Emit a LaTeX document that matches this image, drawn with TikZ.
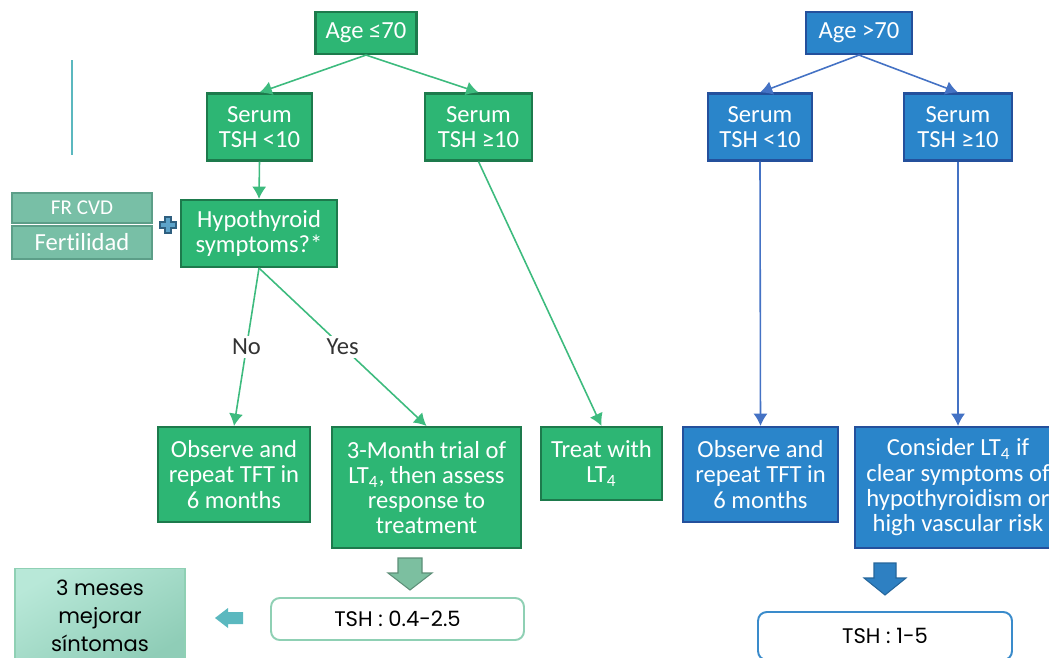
\documentclass[tikz,border=0pt]{standalone}
\usepackage{fontspec}
\setmainfont{Carlito}[Ligatures={NoCommon,NoRare}]
\newfontfamily\geofont{Poppins}
\usepackage{xcolor}
\usepackage{tikz}
\usetikzlibrary{arrows.meta}

\definecolor{boxgreen}{HTML}{2DB674}
\definecolor{edgegreen}{HTML}{1D7A4C}
\definecolor{linegreen}{HTML}{3DBB7E}
\definecolor{boxblue}{HTML}{2A85CA}
\definecolor{edgeblue}{HTML}{24509C}
\definecolor{lineblue}{HTML}{4472C4}
\definecolor{riskfill}{HTML}{78BFA6}
\definecolor{riskedge}{HTML}{5C9E88}
\definecolor{tealmark}{HTML}{5BB8BF}
\definecolor{plusblue}{HTML}{5DA3C9}
\definecolor{plusedge}{HTML}{2F5F7F}
\definecolor{bigarrowgreen}{HTML}{7CBFA0}
\definecolor{bigarrowblue}{HTML}{2E80C2}
\definecolor{tshgreen}{HTML}{8FD0B4}
\definecolor{tshblue}{HTML}{3A8BCB}
\definecolor{mesesA}{HTML}{B8E8D8}
\definecolor{mesesB}{HTML}{8FCDB7}

\begin{document}
\begin{tikzpicture}[x=0.02cm,y=-0.02cm,
	greenbox/.style={draw=edgegreen,fill=boxgreen,line width=1.2pt,text=white,align=center,inner sep=0pt,font=\fontsize{14}{14.4}\selectfont},
	bluebox/.style={draw=edgeblue,fill=boxblue,line width=1.2pt,text=white,align=center,inner sep=0pt,font=\fontsize{14}{14.4}\selectfont},
	riskbox/.style={draw=riskedge,fill=riskfill,line width=0.8pt,text=white,inner sep=0pt,minimum width=2.8cm},
	garrow/.style={draw=linegreen,line width=0.9pt,-{Latex[length=7pt,width=8pt]}},
	barrow/.style={draw=lineblue,line width=0.9pt,-{Latex[length=7pt,width=8pt]}},
	choice/.style={fill=white,text=black!80,inner sep=1.5pt,font=\fontsize{14}{14.4}\selectfont},
	tshbox/.style={draw,fill=white,rounded corners=5pt,line width=1.1pt,inner sep=0pt,font=\geofont\fontsize{12}{14}\selectfont}]
	\useasboundingbox (0,0) rectangle (1049,657);
	\draw[tealmark,line width=1pt] (72,60) -- (72,155);
	% age <= 70
	\node[greenbox,minimum width=2.02cm,minimum height=0.84cm] (agelow) at (366,33) {Age ≤70};
	\node[greenbox,minimum width=2.1cm,minimum height=1.34cm] (serlowA) at (259.5,127) {Serum\\TSH <10};
	\node[greenbox,minimum width=2.14cm,minimum height=1.34cm] (serlowB) at (478.5,127) {Serum\\TSH ≥10};
	\node[greenbox,minimum width=3.12cm,minimum height=1.34cm] (hypo) at (259,233.5) {Hypothyroid\\symptoms?*};
	\node[greenbox,minimum width=3.04cm,minimum height=1.9cm] (obslow) at (234,474.5) {Observe and\\repeat TFT in\\6 months};
	\node[greenbox,minimum width=3.78cm,minimum height=2.42cm] (trial) at (426.5,487.5) {3-Month trial of\\LT\textsubscript{4}, then assess\\response to\\treatment};
	\node[greenbox,minimum width=2.42cm,minimum height=1.46cm] (treat) at (601.5,463.5) {Treat with\\LT\textsubscript{4}};
	\draw[garrow] (agelow.south) -- (serlowA.north);
	\draw[garrow] (agelow.south) -- (serlowB.north);
	\draw[garrow] (serlowA.south) -- (hypo.north);
	\draw[garrow] (hypo.south) -- node[choice]{No} (obslow.north);
	\draw[garrow] (hypo.south) -- node[choice]{Yes} (trial.north);
	\draw[garrow] (serlowB.south) -- (treat.north);
	% risk factors
	\node[riskbox,minimum height=0.6cm,font=\fontsize{12}{12}\selectfont] (frcvd) at (82,208) {FR CVD};
	\node[riskbox,minimum height=0.66cm,font=\fontsize{14}{14}\selectfont] (fert) at (82,242.5) {Fertilidad};
	\draw[fill=plusblue,draw=plusedge,line width=0.6pt] (165,217) -- (171,217) -- (171,222) -- (176,222) -- (176,228) -- (171,228) -- (171,233) -- (165,233) -- (165,228) -- (160,228) -- (160,222) -- (165,222) -- cycle;
	% age > 70
	\node[bluebox,minimum width=2.12cm,minimum height=0.84cm] (agehigh) at (859,33) {Age >70};
	\node[bluebox,minimum width=2.08cm,minimum height=1.34cm] (serhighA) at (760,127) {Serum\\TSH <10};
	\node[bluebox,minimum width=2.16cm,minimum height=1.34cm] (serhighB) at (958,127) {Serum\\TSH ≥10};
	\node[bluebox,minimum width=3.1cm,minimum height=1.9cm] (obshigh) at (760.5,474.5) {Observe and\\repeat TFT in\\6 months};
	\node[bluebox,minimum width=4.12cm,minimum height=2.42cm] (consider) at (958,487.5) {Consider LT\textsubscript{4} if\\clear symptoms of\\hypothyroidism or\\high vascular risk};
	\draw[barrow] (agehigh.south) -- (serhighA.north);
	\draw[barrow] (agehigh.south) -- (serhighB.north);
	\draw[barrow] (serhighA.south) -- (obshigh.north);
	\draw[barrow] (serhighB.south) -- (consider.north);
	% targets
	\fill[bigarrowgreen,draw=bigarrowgreen!75!black,line width=0.6pt] (398,558) -- (422,558) -- (422,573) -- (432,573) -- (410,590) -- (388,573) -- (398,573) -- cycle;
	\fill[bigarrowblue,draw=bigarrowblue!80!black,line width=0.6pt] (874,563) -- (896,563) -- (896,578) -- (906,578) -- (885,595) -- (864,578) -- (874,578) -- cycle;
	\fill[tealmark] (243,612) -- (228,612) -- (228,608) -- (215,618) -- (228,628) -- (228,624) -- (243,624) -- cycle;
	\node[tshbox,draw=tshgreen,minimum width=5.06cm,minimum height=0.84cm] (tshlow) at (397.5,619) {TSH : 0.4-2.5};
	\node[tshbox,draw=tshblue,minimum width=5.08cm,minimum height=0.96cm] (tshhigh) at (885,636) {TSH : 1-5};
	\node[draw=tshgreen,line width=0.8pt,top color=mesesA,bottom color=mesesB,shading angle=30,minimum width=3.4cm,minimum height=1.9cm,inner sep=0pt,align=center,font=\geofont\fontsize{12}{16}\selectfont] (meses) at (100,616) {3 meses\\mejorar\\síntomas};
\end{tikzpicture}
\end{document}
